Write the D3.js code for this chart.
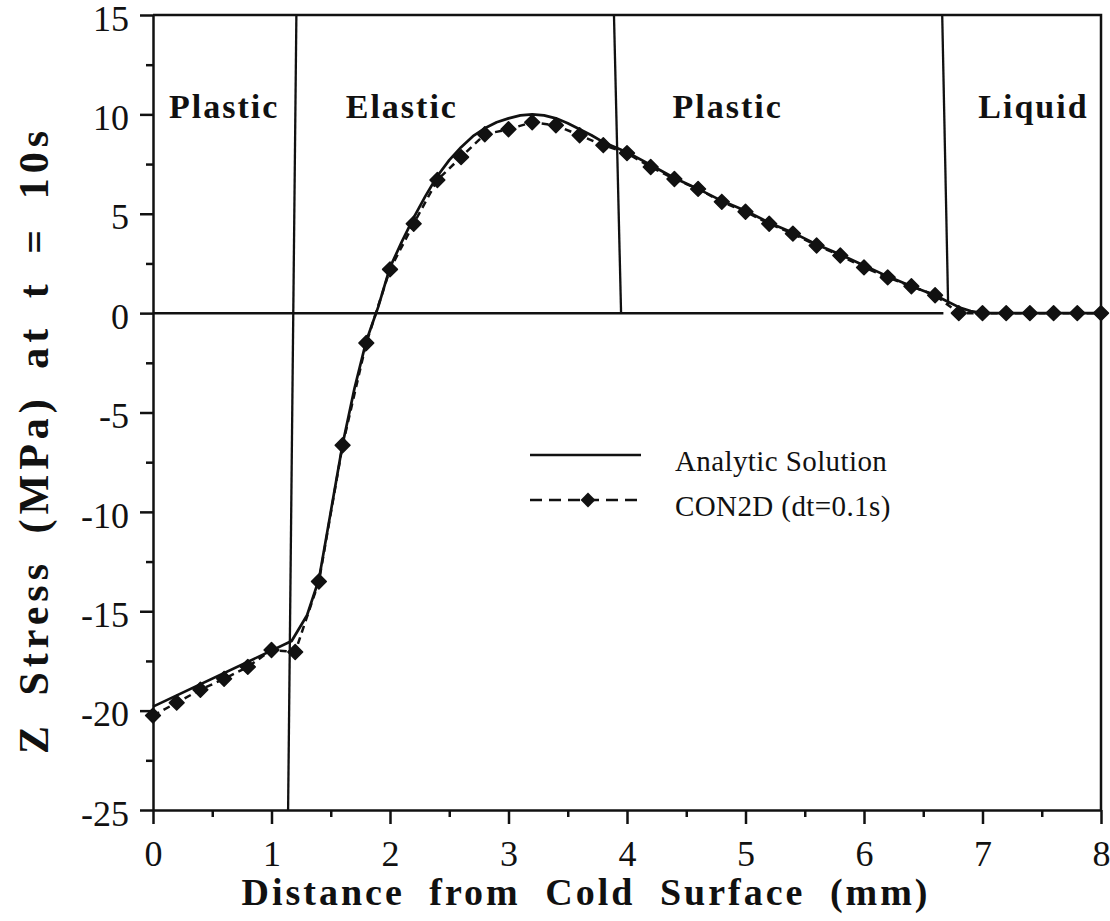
<!DOCTYPE html>
<html>
<head>
<meta charset="utf-8">
<script src="https://cdn.jsdelivr.net/npm/d3@7"></script>
<style>
  body { margin: 0; background: #fff; }
  svg text { font-family: "Liberation Serif", "Times New Roman", serif; fill: #111; }
  .axis path, .axis line { stroke: #111; stroke-width: 2.5; }
  .axis text { font-size: 36px; }
</style>
</head>
<body>
<div id="chart"></div>
<script>
// CON2D (dt=0.1s) samples, every 0.2 mm
const conX = [0, 0.2, 0.4, 0.6, 0.8, 1.0, 1.2, 1.4, 1.6, 1.8, 2.0, 2.2, 2.4, 2.6, 2.8, 3.0,
  3.2, 3.4, 3.6, 3.8, 4.0, 4.2, 4.4, 4.6, 4.8, 5.0, 5.2, 5.4, 5.6, 5.8, 6.0, 6.2, 6.4, 6.6,
  6.8, 7.0, 7.2, 7.4, 7.6, 7.8, 8.0]
const conY = [-20.25, -19.6, -18.95, -18.4, -17.8, -16.95, -17.05, -13.5, -6.65, -1.5, 2.2, 4.5,
  6.7, 7.85, 9.0, 9.25, 9.6, 9.45, 8.95, 8.45, 8.05, 7.35, 6.75, 6.25, 5.6, 5.1, 4.5, 4.0,
  3.4, 2.9, 2.3, 1.8, 1.35, 0.9, 0, 0, 0, 0, 0, 0, 0]

// Analytic solution
const anaX = [0, 1.17, 1.3, 1.4, 1.5, 1.6, 1.7, 1.8, 1.9, 2.0, 2.1, 2.2, 2.3, 2.4, 2.5, 2.6,
  2.7, 2.8, 2.9, 3.0, 3.1, 3.2, 3.3, 3.4, 3.5, 3.6, 3.7, 3.8, 3.9, 4.0, 4.2, 4.4, 4.6, 4.8,
  5.0, 5.2, 5.4, 5.6, 5.8, 6.0, 6.2, 6.4, 6.6, 6.7, 6.8, 6.9, 7.0, 8.0]
const anaY = [-19.8, -16.5, -15.2, -13.4, -10.0, -6.6, -3.8, -1.4, 0.3, 2.3, 3.6, 4.8, 5.9,
  6.9, 7.7, 8.35, 8.9, 9.3, 9.6, 9.8, 9.95, 10.0, 9.95, 9.8, 9.55, 9.25, 8.95, 8.6, 8.35,
  8.1, 7.45, 6.8, 6.25, 5.65, 5.15, 4.55, 4.05, 3.45, 2.95, 2.4, 1.85, 1.35, 0.9, 0.6, 0.3,
  0.1, 0, 0]

const regionNames = ['Plastic', 'Elastic', 'Plastic', 'Liquid']
// region boundary lines: [xTop, xBottom, yBottom]
const boundaries = [[1.21, 1.14, -25], [3.89, 3.95, 0], [6.66, 6.71, 0.4]]
const zeroLineEnd = 6.67

const xTicks = [0, 1, 2, 3, 4, 5, 6, 7, 8]
const yTicks = [-25, -20, -15, -10, -5, 0, 5, 10, 15]
const legendLabels = ['Analytic Solution', 'CON2D (dt=0.1s)']

const width = 1110
const height = 921

const x = d3.scaleLinear().domain([0, 8]).range([153, 1101])
const y = d3.scaleLinear().domain([-25, 15]).range([810, 15])

const svg = d3.select('#chart').append('svg')
  .attr('width', width)
  .attr('height', height)

// Axes
svg.append('g')
  .attr('class', 'axis')
  .attr('transform', `translate(${x(0)},0)`)
  .call(d3.axisLeft(y).tickValues(yTicks).tickFormat(d => String(d))
    .tickSize(13).tickSizeOuter(0).tickPadding(11))
  .call(g => g.selectAll('.tick text').attr('dy', '0.42em'))

svg.append('g')
  .attr('class', 'axis')
  .attr('transform', `translate(${x(0)},0)`)
  .call(d3.axisLeft(y).tickValues(d3.range(-22.5, 15, 5)).tickSize(7).tickSizeOuter(0).tickFormat(''))
  .call(g => g.select('.domain').remove())

svg.append('g')
  .attr('class', 'axis')
  .attr('transform', `translate(0,${y(-25)})`)
  .call(d3.axisBottom(x).tickValues(xTicks).tickSize(14).tickSizeOuter(0).tickPadding(10))
  .call(g => g.selectAll('.tick text').attr('dy', '0.9em'))

svg.append('g')
  .attr('class', 'axis')
  .attr('transform', `translate(0,${y(-25)})`)
  .call(d3.axisBottom(x).tickValues(d3.range(0.5, 8, 1)).tickSize(7).tickSizeOuter(0).tickFormat(''))
  .call(g => g.select('.domain').remove())

// top and right frame
svg.append('path')
  .attr('d', `M${x(0)},${y(15)}H${x(8)}V${y(-25)}`)
  .attr('fill', 'none')
  .attr('stroke', '#111')
  .attr('stroke-width', 2.5)

// zero line
svg.append('line')
  .attr('x1', x(0)).attr('x2', x(zeroLineEnd))
  .attr('y1', y(0)).attr('y2', y(0))
  .attr('stroke', '#111').attr('stroke-width', 2.5)

// region boundaries
svg.selectAll('.boundary')
  .data(boundaries)
  .join('line')
  .attr('class', 'boundary')
  .attr('x1', d => x(d[0])).attr('y1', y(15))
  .attr('x2', d => x(d[1])).attr('y2', d => y(d[2]))
  .attr('stroke', '#111').attr('stroke-width', 2.3)

// region labels
const labelX = [0.6, 2.1, 4.85, 7.43]
svg.selectAll('.region-label')
  .data(regionNames)
  .join('text')
  .attr('class', 'region-label')
  .attr('x', (d, i) => x(labelX[i]))
  .attr('y', y(9.8))
  .attr('text-anchor', 'middle')
  .attr('font-size', 34)
  .attr('font-weight', 'bold')
  .attr('letter-spacing', 2)
  .text(d => d)

// series
const analytic = anaX.map((v, i) => [v, anaY[i]])
const con2d = conX.map((v, i) => [v, conY[i]])

const line = d3.line()
  .x(d => x(d[0]))
  .y(d => y(d[1]))

svg.append('path')
  .datum(con2d)
  .attr('d', line)
  .attr('fill', 'none')
  .attr('stroke', '#111')
  .attr('stroke-width', 2.5)
  .attr('stroke-dasharray', '7,5')

svg.append('path')
  .datum(analytic)
  .attr('d', line)
  .attr('fill', 'none')
  .attr('stroke', '#111')
  .attr('stroke-width', 2.7)
  .attr('stroke-linejoin', 'round')

const diamond = d3.symbol().type(d3.symbolDiamond2).size(140)

svg.selectAll('.marker')
  .data(con2d)
  .join('path')
  .attr('class', 'marker')
  .attr('transform', d => `translate(${x(d[0])},${y(d[1])})`)
  .attr('d', diamond)
  .attr('fill', '#111')
  .attr('stroke', '#111')
  .attr('stroke-width', 1.5)
  .attr('stroke-linejoin', 'round')

// legend
const legend = svg.append('g').attr('transform', 'translate(530,455)')
legend.append('line')
  .attr('x1', 0).attr('x2', 111).attr('y1', 0).attr('y2', 0)
  .attr('stroke', '#111').attr('stroke-width', 2.7)
legend.append('line')
  .attr('x1', 0).attr('x2', 111).attr('y1', 45).attr('y2', 45)
  .attr('stroke', '#111').attr('stroke-width', 2.7)
  .attr('stroke-dasharray', '12,7')
legend.append('path')
  .attr('transform', 'translate(58,45)')
  .attr('d', diamond)
  .attr('fill', '#111')
legend.selectAll('text')
  .data(legendLabels)
  .join('text')
  .attr('x', 145)
  .attr('y', (d, i) => 16 + i * 45)
  .attr('font-size', 29)
  .attr('letter-spacing', 0.4)
  .text(d => d)

// axis titles
svg.append('text')
  .attr('x', 586)
  .attr('y', 905)
  .attr('text-anchor', 'middle')
  .attr('font-size', 38)
  .attr('font-weight', 'bold')
  .attr('letter-spacing', 3)
  .attr('word-spacing', 12)
  .text('Distance from Cold Surface (mm)')

svg.append('text')
  .attr('transform', 'translate(48,440) rotate(-90)')
  .attr('text-anchor', 'middle')
  .attr('font-size', 42)
  .attr('font-weight', 'bold')
  .attr('letter-spacing', 5)
  .attr('word-spacing', 10)
  .text('Z Stress (MPa) at t = 10s')
</script>
</body>
</html>
